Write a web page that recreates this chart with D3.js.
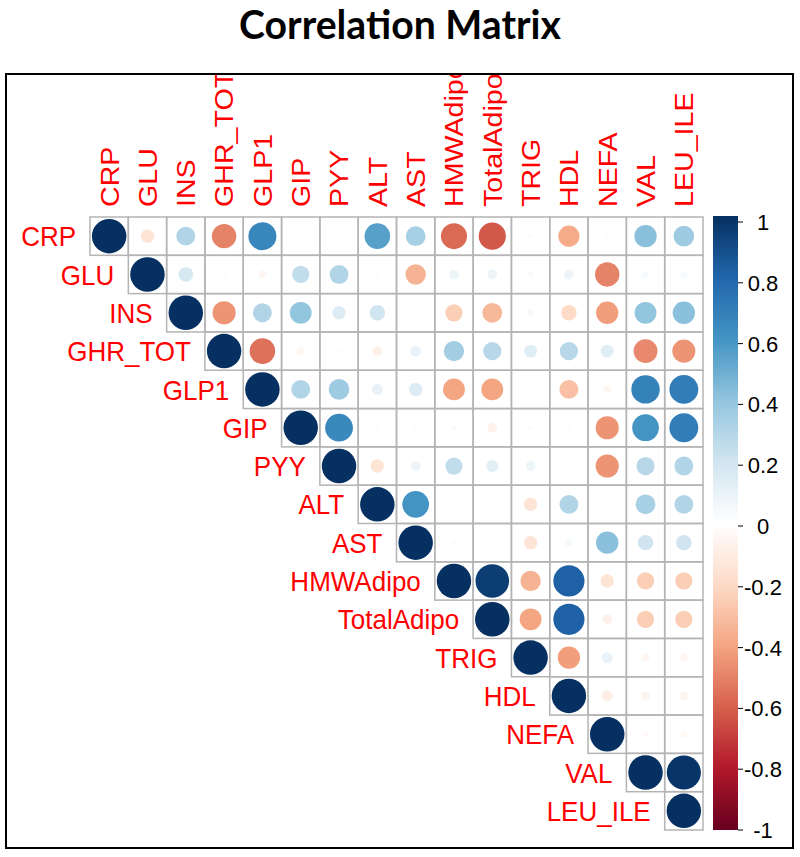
<!DOCTYPE html>
<html>
<head>
<meta charset="utf-8">
<script src="https://cdn.jsdelivr.net/npm/d3@7"></script>
<style>
  html, body { margin: 0; padding: 0; background: #fff; }
  svg { display: block; }
</style>
</head>
<body>
<svg id="chart" width="800" height="857"></svg>
<script>
// ---- data ----
const variables = ["CRP","GLU","INS","GHR_TOT","GLP1","GIP","PYY","ALT","AST",
                   "HMWAdipo","TotalAdipo","TRIG","HDL","NEFA","VAL","LEU_ILE"];
// upper triangle, each row starts at its diagonal
const rowCRP        = [1, -0.15, 0.30, -0.50, 0.66, 0.00, 0.00, 0.55, 0.33, -0.57, -0.62, -0.02, -0.38, -0.02, 0.42, 0.36];
const rowGLU        = [1, 0.18, 0.02, -0.05, 0.25, 0.30, -0.02, -0.35, 0.08, 0.08, 0.03, 0.08, -0.50, 0.04, 0.04];
const rowINS        = [1, -0.45, 0.30, 0.40, 0.15, 0.20, 0.02, -0.25, -0.33, 0.04, -0.20, -0.42, 0.40, 0.42];
const rowGHR_TOT    = [1, -0.55, -0.05, 0.02, -0.08, 0.10, 0.35, 0.28, 0.14, 0.28, 0.14, -0.48, -0.45];
const rowGLP1       = [1, 0.30, 0.36, 0.10, 0.15, -0.40, -0.40, 0.01, -0.30, -0.05, 0.68, 0.70];
const rowGIP        = [1, 0.65, 0.02, 0.02, 0.03, -0.08, 0.02, 0.02, -0.45, 0.60, 0.70];
const rowPYY        = [1, -0.15, 0.08, 0.25, 0.12, 0.08, 0.01, -0.45, 0.28, 0.30];
const rowALT        = [1, 0.60, 0.02, 0.02, -0.15, 0.30, 0.00, 0.33, 0.30];
const rowAST        = [1, 0.02, 0.01, -0.15, 0.05, 0.42, 0.20, 0.20];
const rowHMWAdipo   = [1, 0.95, -0.35, 0.82, -0.15, -0.25, -0.25];
const rowTotalAdipo = [1, -0.40, 0.82, -0.08, -0.25, -0.25];
const rowTRIG       = [1, -0.42, 0.10, -0.05, -0.05];
const rowHDL        = [1, -0.10, -0.06, -0.06];
const rowNEFA       = [1, -0.03, -0.04];
const rowVAL        = [1, 0.98];
const rowLEU_ILE    = [1];
const upperRows = [rowCRP,rowGLU,rowINS,rowGHR_TOT,rowGLP1,rowGIP,rowPYY,rowALT,rowAST,
                   rowHMWAdipo,rowTotalAdipo,rowTRIG,rowHDL,rowNEFA,rowVAL,rowLEU_ILE];
const legendTicks = [1, 0.8, 0.6, 0.4, 0.2, 0, -0.2, -0.4, -0.6, -0.8, -1];
const legendLabels = ["1","0.8","0.6","0.4","0.2","0","-0.2","-0.4","-0.6","-0.8","-1"];
const paletteStops = ["#67001F","#B2182B","#D6604D","#F4A582","#FDDBC7","#FFFFFF",
                      "#D1E5F0","#92C5DE","#4393C3","#2166AC","#053061"];

// ---- build cells ----
const cells = [];
upperRows.forEach((row, i) => {
  row.forEach((v, k) => {
    cells.push({ row: variables[i], col: variables[i + k], value: v, i: i, j: i + k });
  });
});

// ---- layout ----
const svg = d3.select("#chart");
const gridLeft = 90, gridTop = 217, gridRight = 703, gridBottom = 830;

const x = d3.scaleBand().domain(variables).range([gridLeft, gridRight]).padding(0);
const y = d3.scaleBand().domain(variables).range([gridTop, gridBottom]).padding(0);
const color = d3.scaleLinear()
  .domain(d3.range(paletteStops.length).map(k => -1 + 2 * k / (paletteStops.length - 1)))
  .range(paletteStops)
  .interpolate(d3.interpolateRgb);
const radius = d3.scaleSqrt().domain([0, 1]).range([0, x.bandwidth() * 0.45]);

// outer box + clip
const box = { x: 6, y: 74, w: 787, h: 774 };
const defs = svg.append("defs");
defs.append("clipPath").attr("id", "boxclip")
  .append("rect").attr("x", box.x + 1).attr("y", box.y + 1)
  .attr("width", box.w - 2).attr("height", box.h - 2);

// title
const title = svg.append("text")
  .attr("x", 400).attr("y", 39)
  .attr("text-anchor", "middle")
  .style("font-family", "Lato, 'Open Sans', sans-serif")
  .style("font-weight", "bold")
  .style("font-size", "32px")
  .attr("fill", "#000")
  .text("Correlation Matrix");
(function () {
  const target = 322;
  const len = title.node().getComputedTextLength();
  if (len > 0) title.style("font-size", (32 * target / len).toFixed(2) + "px");
})();

const plot = svg.append("g").attr("clip-path", "url(#boxclip)");

// grid cells
plot.append("g").selectAll("rect").data(cells).join("rect")
  .attr("x", d => x(d.col))
  .attr("y", d => y(d.row))
  .attr("width", x.bandwidth())
  .attr("height", y.bandwidth())
  .attr("fill", "none")
  .attr("stroke", "#b4b4b4")
  .attr("stroke-width", 1.5);

// circles
plot.append("g").selectAll("circle").data(cells).join("circle")
  .attr("cx", d => x(d.col) + x.bandwidth() / 2)
  .attr("cy", d => y(d.row) + y.bandwidth() / 2)
  .attr("r", d => radius(Math.abs(d.value)))
  .attr("fill", d => color(d.value));

// column labels (rotated)
const labelFont = "'Liberation Sans', Arial, sans-serif";
plot.append("g").selectAll("text").data(variables).join("text")
  .attr("transform", d => `translate(${x(d) + x.bandwidth() / 2},${gridTop - 10}) rotate(-90) scale(1.1,1)`)
  .attr("dy", "0.36em")
  .attr("text-anchor", "start")
  .style("font-family", labelFont)
  .style("font-size", "26px")
  .attr("fill", "#ff0000")
  .text(d => d);

// row labels
plot.append("g").selectAll("text").data(variables).join("text")
  .attr("transform", d => `translate(${x(d) - 14},${y(d) + y.bandwidth() / 2}) scale(1,1.08)`)
  .attr("dy", "0.36em")
  .attr("text-anchor", "end")
  .style("font-family", labelFont)
  .style("font-size", "26px")
  .attr("fill", "#ff0000")
  .text(d => d);

// color legend
const barX = 713, barW = 25, barTop = 216, barBottom = 830;
const grad = defs.append("linearGradient")
  .attr("id", "legendgrad").attr("x1", 0).attr("y1", 1).attr("x2", 0).attr("y2", 0);
paletteStops.forEach((c, k) => {
  grad.append("stop").attr("offset", k / (paletteStops.length - 1)).attr("stop-color", c);
});
svg.append("rect")
  .attr("x", barX).attr("y", barTop)
  .attr("width", barW).attr("height", barBottom - barTop)
  .attr("fill", "url(#legendgrad)");

const legendScale = d3.scaleLinear().domain([-1, 1]).range([barBottom, barTop + 6]);
const lg = svg.append("g");
lg.selectAll("line").data(legendTicks).join("line")
  .attr("x1", barX + barW).attr("x2", barX + barW + 5)
  .attr("y1", d => legendScale(d)).attr("y2", d => legendScale(d))
  .attr("stroke", "#000").attr("stroke-width", 1);
lg.selectAll("text").data(legendTicks).join("text")
  .attr("x", 763)
  .attr("y", d => legendScale(d))
  .attr("dy", "0.36em")
  .attr("text-anchor", "middle")
  .style("font-family", labelFont)
  .style("font-size", "22px")
  .attr("fill", "#000")
  .text((d, i) => legendLabels[i]);

// outer box
svg.append("rect")
  .attr("x", box.x).attr("y", box.y).attr("width", box.w).attr("height", box.h)
  .attr("fill", "none").attr("stroke", "#000").attr("stroke-width", 2);
</script>
</body>
</html>
